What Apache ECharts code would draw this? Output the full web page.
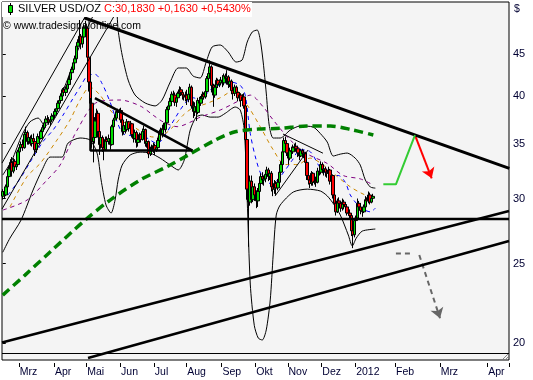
<!DOCTYPE html>
<html><head><meta charset="utf-8">
<script src="https://cdn.jsdelivr.net/npm/echarts@6/dist/echarts.min.js"></script>
<style>html,body{margin:0;padding:0;background:#fff}#c{width:533px;height:380px}</style>
</head><body><div id="c"></div>
<script>
// ---------------- data ----------------
const titleText = 'SILVER USD/OZ ';
const quoteText = 'C:30,1830 +0,1630 +0,5430%';
const copyText = '\u00A9 www.tradesignalonline.com';
const unitText = '$';
const monthLabels = ['Mrz','Apr','Mai','Jun','Jul','Aug','Sep','Okt','Nov','Dez','2012','Feb','Mrz','Apr'];
const yTicks = [20, 25, 30, 35, 40, 45];
const priceMin = 19.07, priceMax = 52.07;
const firstDay = [2011, 1, 14], lastBarDay = [2012, 0, 17], lastDay = [2012, 3, 14];

// daily bars [open, close, low, high]
const candles = [
// Feb 2011
[30.2,30.6,29.9,30.8],[30.6,30.3,30.0,30.9],[30.3,31.0,30.2,31.2],[31.0,31.9,30.9,32.1],[31.9,32.6,31.7,32.9],
[32.6,33.2,32.4,33.5],[33.2,32.4,31.9,33.7],[32.4,33.3,32.2,33.6],[33.3,32.8,32.4,33.5],[32.8,33.0,32.5,33.4],
[33.0,34.2,32.9,34.4],
// Mar
[34.2,34.6,34.0,34.9],[34.6,34.9,34.3,35.2],[34.9,34.6,34.3,35.4],[34.6,35.9,34.5,36.2],[35.9,36.1,35.4,36.7],
[36.1,35.2,34.9,36.3],[35.2,35.6,34.9,35.9],[35.6,35.0,34.8,35.8],[35.0,35.5,34.7,35.9],[35.5,35.2,34.9,36.0],
[35.2,34.4,33.8,35.4],[34.4,35.0,34.1,35.3],[35.0,35.7,34.8,36.0],[35.7,35.5,35.2,35.9],[35.5,36.2,35.4,36.4],
[36.2,36.6,36.0,36.9],[36.6,37.1,36.4,37.3],[37.1,37.5,36.9,37.8],[37.5,37.4,37.1,37.9],[37.4,37.2,36.9,37.7],
[37.2,37.4,36.8,37.6],[37.4,37.8,37.3,38.1],[37.8,37.9,37.5,38.2],
// Apr
[37.9,38.3,37.6,38.6],[38.3,38.6,38.0,38.9],[38.6,39.2,38.5,39.5],[39.2,39.5,38.9,39.8],[39.5,40.0,39.3,40.3],
[40.0,40.7,39.9,40.9],[40.7,40.4,40.1,41.0],[40.4,40.8,40.0,41.1],[40.8,41.3,40.6,41.6],[41.3,41.9,41.1,42.2],
[41.9,42.7,41.7,43.0],[42.7,43.1,41.9,43.4],[43.1,43.9,42.9,44.2],[43.9,44.4,43.6,44.8],[44.4,46.0,44.2,46.3],
[46.0,46.5,45.7,46.9],[46.5,47.3,46.2,49.5],[47.3,46.3,45.6,47.6],[46.3,47.2,45.8,47.6],[47.2,48.5,47.0,48.9],
[48.5,48.6,47.8,49.4],
// May
[48.4,44.6,42.9,48.6],[44.6,41.6,40.5,45.0],[41.6,39.2,38.5,42.0],[39.2,35.2,34.6,39.5],[35.2,35.6,33.2,36.8],
[35.6,37.3,35.0,37.7],[37.3,38.1,36.8,38.6],[38.1,36.2,35.6,38.4],[36.2,34.9,33.9,36.3],[34.9,35.6,34.5,36.1],
[35.6,34.6,34.2,35.8],[34.6,34.4,33.4,34.9],[34.4,35.4,34.3,35.7],[35.4,35.2,34.8,35.7],[35.2,35.5,34.9,35.9],
[35.5,34.9,34.4,35.7],[34.9,36.7,34.8,36.9],[36.7,37.4,36.5,37.6],[37.4,37.6,37.0,38.0],[37.6,38.3,37.4,38.5],
[38.3,38.2,37.9,38.6],[38.2,38.4,37.7,38.6],
// Jun
[38.4,37.4,37.1,38.7],[37.4,36.2,35.8,37.6],[36.2,36.8,35.9,37.1],[36.8,36.4,36.0,37.0],[36.4,37.2,36.2,37.5],
[37.2,36.5,36.2,37.3],[36.5,37.0,36.3,37.3],[37.0,35.9,35.6,37.1],[35.9,35.5,35.1,36.1],[35.5,36.1,35.4,36.4],
[36.1,35.1,34.6,36.3],[35.1,35.4,34.7,35.7],[35.4,35.9,35.2,36.1],[35.9,35.4,35.1,36.0],[35.4,36.2,35.3,36.5],
[36.2,36.4,35.9,36.8],[36.4,35.0,34.7,36.5],[35.0,35.2,34.6,35.6],[35.2,34.0,33.6,35.3],[34.0,34.4,33.8,34.7],
[34.4,34.3,33.9,34.9],[34.3,34.8,34.1,35.1],
// Jul
[34.8,34.4,33.9,35.0],[34.4,34.6,34.2,34.8],[34.6,35.3,34.4,35.6],[35.3,36.1,35.1,36.4],[36.1,35.9,35.5,36.6],
[35.9,36.5,35.6,36.9],[36.5,36.4,35.8,37.1],[36.4,37.1,36.1,37.4],[37.1,38.5,37.0,38.8],[38.5,38.9,38.0,39.3],
[38.9,39.4,38.6,39.8],[39.4,40.2,39.2,40.5],[40.2,40.1,39.7,40.6],[40.1,39.3,38.9,40.4],[39.3,39.8,38.8,40.2],
[39.8,40.3,39.5,40.5],[40.3,40.7,39.9,41.1],[40.7,40.4,40.0,41.0],[40.4,40.1,39.6,40.6],[40.1,39.9,39.5,40.3],
[39.9,40.1,39.4,40.5],
// Aug
[40.1,39.6,39.0,40.7],[39.6,40.2,39.3,40.5],[40.2,41.0,39.9,41.4],[41.0,38.9,38.6,41.2],[38.9,38.3,37.6,39.4],
[38.3,38.8,37.8,39.3],[38.8,38.2,37.3,39.2],[38.2,39.5,38.0,39.8],[39.5,39.2,38.7,39.9],[39.2,39.7,38.9,40.0],
[39.7,40.2,39.4,40.5],[40.2,39.9,39.6,40.4],[39.9,40.5,39.7,40.9],[40.5,42.0,40.3,42.3],[42.0,42.6,41.6,43.0],
[42.6,43.4,42.3,44.2],[43.4,41.2,40.4,43.6],[41.2,40.1,38.8,41.4],[40.1,41.0,39.8,41.3],[41.0,41.8,40.6,42.1],
[41.8,41.3,40.9,42.0],[41.3,41.5,41.0,41.9],[41.5,41.8,41.2,42.2],
// Sep
[41.8,41.5,41.0,42.4],[41.5,42.3,41.2,42.6],[42.3,42.0,41.6,42.6],[42.0,42.2,41.3,43.0],[42.2,41.3,40.9,42.4],
[41.3,41.7,41.0,42.1],[41.7,40.6,40.2,41.9],[40.6,40.3,39.6,40.8],[40.3,41.0,40.0,41.3],[41.0,40.4,40.0,41.2],
[40.4,39.8,39.4,40.7],[39.8,40.1,39.4,40.4],[40.1,39.5,38.8,40.3],[39.5,39.9,39.2,40.2],[39.9,38.9,38.6,40.3],
[38.9,35.4,34.9,39.0],[35.4,30.8,29.9,35.6],[30.8,29.7,26.2,31.4],[29.7,31.5,29.4,32.0],[31.5,29.9,29.6,32.0],
[29.9,31.0,29.7,31.5],[31.0,30.3,29.8,31.3],
// Oct
[30.3,29.8,29.2,30.7],[29.8,30.6,29.3,30.9],[30.6,31.3,30.3,31.6],[31.3,31.9,31.0,32.2],[31.9,31.6,31.2,32.3],
[31.6,31.7,31.1,32.0],[31.7,32.1,31.4,32.4],[32.1,32.5,31.8,32.8],[32.5,31.9,31.5,32.7],[31.9,32.2,31.6,32.5],
[32.2,31.0,30.6,32.4],[31.0,30.8,30.2,31.3],[30.8,31.3,30.4,31.6],[31.3,30.9,30.3,31.5],[30.9,31.4,30.7,31.7],
[31.4,32.3,31.2,32.6],[32.3,33.0,32.0,33.3],[33.0,34.2,32.8,34.4],[34.2,35.3,34.0,35.6],[35.3,35.0,34.6,35.7],
[35.0,34.1,33.8,35.2],
// Nov
[34.1,33.6,33.0,34.3],[33.6,34.3,33.4,34.6],[34.3,34.2,33.8,34.7],[34.2,34.6,34.0,34.9],[34.6,34.7,34.3,35.0],
[34.7,34.5,34.2,35.1],[34.5,34.1,33.7,34.8],[34.1,33.8,33.4,34.3],[33.8,34.3,33.7,34.5],[34.3,34.0,33.7,34.5],
[34.0,34.1,33.6,34.4],[34.1,33.2,32.9,34.2],[33.2,32.0,31.6,33.4],[32.0,31.6,31.2,32.3],[31.6,31.3,30.9,31.8],
[31.3,32.2,31.1,32.4],[32.2,31.4,31.1,32.3],[31.4,31.5,31.2,31.8],[31.5,31.4,31.0,31.9],[31.4,32.4,31.3,32.7],
[32.4,32.3,32.0,32.8],[32.3,33.0,32.1,33.3],
// Dec
[33.0,32.5,32.2,33.2],[32.5,32.6,32.0,32.9],[32.6,32.3,31.9,32.8],[32.3,32.2,31.8,32.6],[32.2,32.5,31.9,32.8],
[32.5,31.5,31.2,32.6],[31.5,32.0,31.3,32.2],[32.0,30.3,30.0,32.1],[30.3,29.6,29.3,30.8],[29.6,28.9,28.6,29.8],
[28.9,29.8,28.8,30.0],[29.8,29.6,29.2,30.1],[29.6,29.2,28.9,29.8],[29.2,29.7,29.0,30.0],[29.7,29.5,29.1,29.9],
[29.5,29.3,29.0,29.7],[29.3,28.8,28.6,29.5],[28.8,28.8,28.6,29.0],[28.8,28.6,28.3,29.1],[28.6,27.4,27.0,28.7],
[27.4,27.1,26.1,27.8],[27.1,28.2,26.9,28.4],
// Jan 2012
[28.2,28.4,28.0,28.6],[28.4,29.6,28.3,30.0],[29.6,29.3,29.0,29.8],[29.3,29.0,28.7,29.6],[29.0,28.9,28.5,29.3],
[28.9,29.3,28.8,29.5],[29.3,29.9,29.2,30.2],[29.9,29.8,29.5,30.1],[29.8,30.3,29.6,30.6],[30.3,29.7,29.5,30.5],
[29.7,30.02,29.6,30.2],[30.02,30.183,29.7,30.4]
];

// indicator lines, [bar index, price]
const ma200 = [[0,22.88],[14.5,24.2],[30.8,25.82],[53.6,28.24],[69.9,29.87],[89.4,31.6],[106.8,32.8],[120.7,33.89],[138.3,35.35],[151.3,36.18],[166,36.45],[180.6,36.53],[198,36.77],[213.2,36.77],[228.2,36.35],[241.2,35.85]];
const maBlue = [[3.4,30.3],[11.2,31.7],[17.7,33.2],[26.2,35.2],[32.7,36.35],[39.2,37.9],[45.1,39.55],[50.3,41.0],[55.5,42.4],[60.1,42.5],[64.7,41.4],[69.9,39.3],[74.4,37.2],[78.3,36.0],[84.2,35.8],[90.7,35.8],[95.9,35.35],[100.5,35.0],[105.7,35.85],[112.2,37.6],[118.7,39.2],[123.9,39.8],[128.5,39.55],[135,40.7],[141.5,41.3],[148,41.6],[154.6,41.2],[157.8,40.1],[161.1,36.0],[165,33.4],[168.9,31.9],[174.1,31.3],[178.7,31.6],[183.9,32.5],[188.4,33.4],[193.6,34.4],[200.2,34.2],[206.7,32.7],[213.2,32.0],[218.4,32.0],[222.9,31.4],[226.2,30.3],[230.8,29.5],[234.7,29.1],[239.3,28.9],[242.5,29.2]];
const maOrange = [[4.7,29.3],[15.8,31.9],[24.3,33.1],[35.3,35.35],[43.8,37.4],[50.3,39.55],[56.8,41.0],[63.3,40.1],[69.9,38.45],[76.4,37.4],[84.9,36.7],[97.9,35.65],[104.4,35.85],[110.9,36.7],[117.4,37.9],[123.9,38.7],[131.7,39.1],[141.5,39.8],[151.3,40.7],[159.1,39.0],[167.6,36.7],[176,34.4],[183.9,33.0],[191.6,33.0],[200.2,33.6],[208.6,32.95],[217.8,31.9],[226.2,31.0],[232.7,30.5],[239.3,30.1],[242.5,30.0]];
const maPurple = [[0.2,29.05],[15.8,29.87],[28.8,31.6],[37.3,32.95],[48.4,36.35],[61.4,39.3],[76.4,39.55],[89.4,38.9],[97.9,37.9],[104.4,37.2],[113.5,36.7],[123.9,37.3],[128.5,37.7],[141.5,38.45],[154.6,39.55],[161.1,40.1],[169.5,38.8],[176,37.4],[187.1,35.35],[198.2,34.0],[211.2,33.1],[221.6,32.0],[232.7,31.7],[240.6,31.2]];
const bbUpper = [[0,32.04],[6,33.42],[12.5,35.85],[17.7,37.2],[23,37.6],[27.5,36.77],[32.1,37.6],[37.3,39.77],[42.5,42.07],[47.7,44.87],[52.9,47.46],[56.8,49.22],[62,51.63],[66.6,55],[71.2,55.8],[73.8,52.36],[75.1,48.13],[77.7,44.87],[81.6,41.83],[86.1,40.11],[92.7,39.22],[99.2,38.9],[103.7,39.55],[109,41.6],[114.2,43.27],[119.4,43.27],[123.9,42.3],[128.5,42.07],[132.4,44.0],[136.3,45.9],[141.5,46.15],[146.7,45.26],[151.9,44.0],[155.8,44.25],[159.1,46.54],[162.4,47.87],[165.6,48.13],[167.6,46.8],[169.5,44.0],[171.5,40.33],[173.4,36.87],[176,35.55],[180.6,35.55],[187.1,36.35],[193.6,36.77],[202.1,36.66],[206.7,36.0],[211.2,35.15],[215.1,33.8],[219.7,33.98],[224.2,34.08],[229.4,33.6],[232.7,32.95],[236,31.6],[239.3,30.98],[242.5,30.89]];
const bbLower = [[0,25.8],[4.7,26.85],[11.9,28.24],[19.7,30.72],[25.6,32.5],[30.8,33.7],[38.6,33.7],[42.5,35.05],[50.3,35.55],[56.8,35.35],[61.4,34.07],[64,31.6],[67.2,29.46],[70.5,28.8],[73.1,29.87],[75.1,31.6],[77.7,32.95],[82.9,33.89],[89.4,34.17],[95.9,34.08],[102.4,33.6],[109,32.95],[114.2,32.5],[118.1,33.42],[122,36.35],[125.9,37.7],[129.8,37.92],[135,37.7],[140.2,37.7],[144.8,38.1],[151.3,38.78],[154.6,38.45],[157.2,36.35],[159.1,29.87],[161.1,23.6],[163.7,21.02],[166.3,20.28],[168.9,20.17],[171.5,20.75],[174.1,22.57],[176,25.6],[178,28.64],[180.6,29.46],[189.1,30.55],[198.2,30.8],[206.7,30.64],[211.2,30.22],[215.8,29.46],[219.7,28.64],[224.9,27.08],[227.5,26.26],[230.1,26.85],[234,27.38],[242.5,27.54]];

// drawn trend lines and annotations, [bar index, price]
const resistance = [[52.9,49.82],[329.7,32.64]];
const support = [[-0.5,28.32],[329.5,28.32]];
const riseA = [[-0.5,20.03],[329.5,28.97]];
const riseB = [[55.5,19.18],[329.5,26.63]];
const channelUp = [[-0.5,33.14],[52.9,49.7]];
const channelLow = [[-0.5,29.13],[80.2,53.0]];
const thin1 = [[177.2,30.21],[198.7,34.37]];
const thin2 = [[182.4,35.95],[208.4,34.07]];
const triangleA = [[57.1,39.77],[57.1,34.32],[123.5,34.32]];
const triangleB = [[60,39.77],[123.5,34.32]];
const futureGreen = [[247.7,31.22],[255.9,31.22],[268.3,35.85]];
const arrowRed = [[268.3,35.85],[279.2,31.75]];
const grayFlat = [[255.9,25.72],[267.2,25.72]];
const arrowGray = [[271.1,25.6],[284.6,21.44]];

// ---------------- build ----------------
const L = Math.log;
const cats = [];
{
  let t = Date.UTC(firstDay[0], firstDay[1], firstDay[2]);
  const lastBar = Date.UTC(lastBarDay[0], lastBarDay[1], lastBarDay[2]);
  const end = Date.UTC(lastDay[0], lastDay[1], lastDay[2]);
  while (t <= end) {
    const d = new Date(t), wd = d.getUTCDay();
    if (t > lastBar || (wd !== 0 && wd !== 6)) cats.push(d.toISOString().slice(0, 10));
    t += 86400000;
  }
}
const N = cats.length;
const labelAt = {};
{
  let k = 0;
  for (let i = 1; i < N; i++) if (cats[i].slice(5, 7) !== cats[i - 1].slice(5, 7)) labelAt[i] = monthLabels[k++];
}
const P = arr => arr.map(([i, p]) => [i, L(p)]);
const FONT = 'Liberation Sans, Arial, sans-serif';
const TXT = '#000033';

function lineS(data, color, width, type, smooth, extra) {
  return Object.assign({
    type: 'line', xAxisIndex: 1, yAxisIndex: 0, data: P(data), symbol: 'none',
    smooth: smooth || false, silent: true, z: 3,
    lineStyle: { color: color, width: width, type: type || 'solid', cap: 'butt' }
  }, extra || {});
}
function arrowMark(seg, color, type) {
  return {
    silent: true, symbol: ['none', 'arrow'], symbolSize: 10,
    label: { show: false },
    lineStyle: { color: color, width: 2, type: type },
    data: [[{ coord: [seg[0][0], L(seg[0][1])] }, { coord: [seg[1][0], L(seg[1][1])] }]]
  };
}

const chart = echarts.init(document.getElementById('c'), null, { renderer: 'canvas' });
chart.setOption({
  animation: false,
  backgroundColor: '#ffffff',
  grid: { left: 2, right: 24, top: 2, bottom: 20, show: true, backgroundColor: '#f4f4f4', borderColor: '#000', borderWidth: 1 },
  xAxis: [{
    type: 'category', data: cats, boundaryGap: true, offset: 3,
    axisLine: { show: false }, splitLine: { show: false },
    axisTick: { show: true, length: 4, interval: i => i in labelAt, lineStyle: { color: '#000' } },
    axisLabel: { interval: i => i in labelAt, formatter: (v, i) => labelAt[i] || '', align: 'left',
      margin: 4, color: TXT, fontSize: 10.5, fontFamily: FONT }
  }, {
    type: 'value', min: -0.5, max: N - 0.5, show: false
  }],
  yAxis: [{
    type: 'value', position: 'right', min: L(priceMin), max: L(priceMax), offset: 2,
    axisLine: { show: false }, splitLine: { show: false },
    axisTick: { show: true, length: 3, customValues: yTicks.map(L), lineStyle: { color: '#000' } },
    axisLabel: { customValues: yTicks.map(L), formatter: v => String(Math.round(Math.exp(v))),
      margin: 2, color: TXT, fontSize: 11, fontFamily: FONT }
  }],
  series: [
    lineS(bbUpper, '#000', 1, 'solid', 0.25),
    lineS(bbLower, '#000', 1, 'solid', 0.25),
    lineS(maPurple, '#800080', 1, [4, 4], 0.3),
    lineS(maOrange, '#cc8800', 1, [4, 4], 0.3),
    lineS(maBlue, '#0000ff', 1, [4, 4], 0.3),
    {
      type: 'candlestick', xAxisIndex: 0, yAxisIndex: 0, silent: true, z: 4,
      data: candles.map(r => r.map(L)), barWidth: 3,
      itemStyle: { color: '#00dd00', color0: '#ff0000', borderColor: '#000', borderColor0: '#000', borderWidth: 1 }
    },
    lineS(channelUp, '#000', 1, 'solid', false, { z: 5 }),
    lineS(channelLow, '#000', 1, 'solid', false, { z: 5 }),
    lineS(thin1, '#000', 1, 'solid', false, { z: 5 }),
    lineS(thin2, '#000', 1, 'solid', false, { z: 5 }),
    lineS(ma200, '#008000', 3.5, [9, 5], 0.3, { z: 5 }),
    lineS(resistance, '#000', 3, 'solid', false, { z: 6 }),
    lineS(support, '#000', 2.5, 'solid', false, { z: 6 }),
    lineS(riseA, '#000', 2.5, 'solid', false, { z: 6 }),
    lineS(riseB, '#000', 2.5, 'solid', false, { z: 6 }),
    lineS(triangleA, '#000', 2.5, 'solid', false, { z: 6 }),
    lineS(triangleB, '#000', 2.5, 'solid', false, { z: 6 }),
    lineS(futureGreen, '#33cc33', 2, 'solid', false, { z: 6, markLine: arrowMark(arrowRed, '#ff0000', 'solid') }),
    lineS(grayFlat, '#666666', 2, [5, 4], false, { z: 6, markLine: arrowMark(arrowGray, '#666666', [5, 4]) })
  ],
  graphic: [
    { type: 'line', z: 50, shape: { x1: 2, y1: 353.5, x2: 509, y2: 353.5 }, style: { stroke: '#000', lineWidth: 1 } },
    { type: 'polyline', z: 50, shape: { points: [[503, 359], [508, 354]] }, style: { stroke: '#888', lineWidth: 1 } },
    { type: 'polyline', z: 50, shape: { points: [[506, 359], [508, 357]] }, style: { stroke: '#888', lineWidth: 1 } },
    { type: 'rect', z: 60, shape: { x: 2, y: 2, width: 250, height: 15 }, style: { fill: '#ffffff' } },
    { type: 'line', z: 61, shape: { x1: 10.5, y1: 3, x2: 10.5, y2: 15 }, style: { stroke: '#000', lineWidth: 1 } },
    { type: 'rect', z: 62, shape: { x: 8.5, y: 5.5, width: 4, height: 7 }, style: { fill: '#00dd00', stroke: '#000', lineWidth: 1 } },
    { type: 'text', z: 62, x: 18, y: 3.5, style: {
        text: '{a|' + titleText + '}{b|' + quoteText + '}',
        font: '11px ' + FONT,
        rich: {
          a: { fill: '#000', fontSize: 11, fontFamily: FONT },
          b: { fill: '#ff0000', fontSize: 11, fontFamily: FONT }
        } } },
    { type: 'text', z: 62, x: 3, y: 21, style: { text: copyText, fill: '#000', font: '10.5px ' + FONT } },
    { type: 'text', z: 62, x: 514, y: 4, style: { text: unitText, fill: TXT, font: '10.5px ' + FONT } }
  ]
});
</script>
</body></html>
